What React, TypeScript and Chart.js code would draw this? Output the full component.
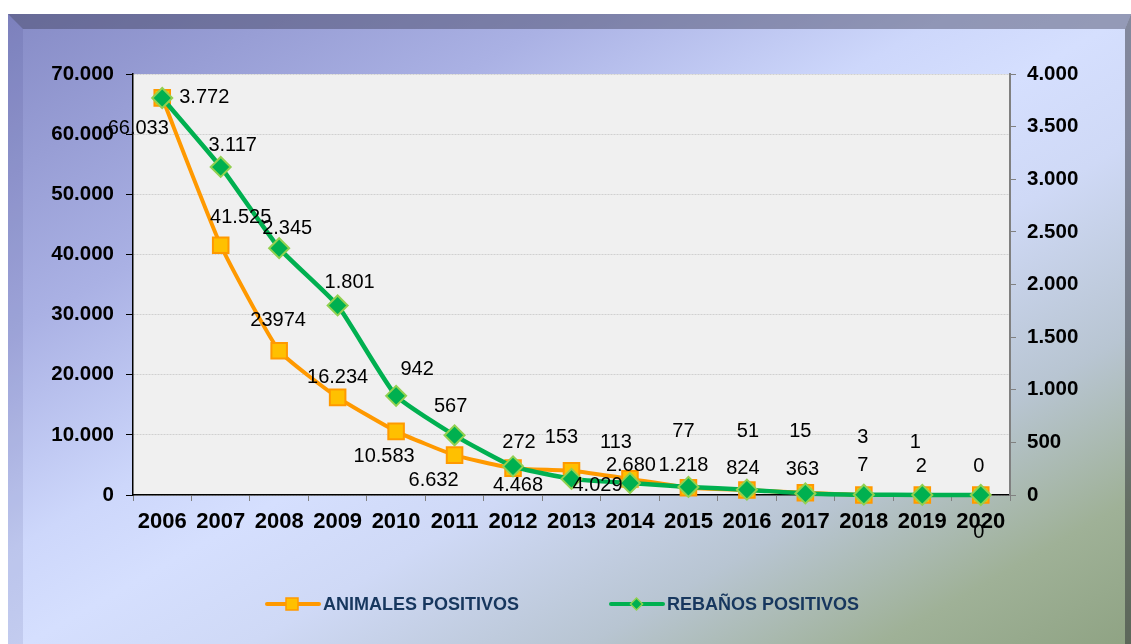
import React, { useEffect, useRef } from 'react';
import { Chart, registerables } from 'chart.js';

Chart.register(...registerables);

const years = ['2006', '2007', '2008', '2009', '2010', '2011', '2012', '2013', '2014', '2015', '2016', '2017', '2018', '2019', '2020'];
const animalesPositivos = [66033, 41525, 23974, 16234, 10583, 6632, 4468, 4029, 2680, 1218, 824, 363, 7, 2, 0];
const rebanosPositivos = [3772, 3117, 2345, 1801, 942, 567, 272, 153, 113, 77, 51, 15, 3, 1, 0];
const animalesLabelText = ['66.033', '41.525', '23974', '16.234', '10.583', '6.632', '4.468', '4.029', '2.680', '1.218', '824', '363', '7', '2', '0'];
const leftAxisMax = 70000;
const leftAxisStep = 10000;
const rightAxisMax = 4000;
const rightAxisStep = 500;

// label placement relative to each point (px)
const animalesLabelOffset = [[-24, 31], [20, -28], [-1, -30], [0, -20], [-12, 25], [-21, 25], [5, 17], [26, 15], [1, -13], [-5, -22], [-4, -22], [-3, -23], [-1, -29], [-1, -29], [-2, -29]];
const rebanosLabelOffset = [[42, -1], [12, -21], [8, -20], [12, -23], [21, -26], [-4, -29], [6, -24], [-10, -41], [-14, -41], [-5, -55], [1, -58], [-5, -62], [-1, -57], [-7, -52], [-2, 37]];

const ORANGE = '#FF9900';
const YELLOW = '#FFC000';
const GREEN = '#00B050';
const LIGHTGREEN = '#92D050';
const NAVY = '#17375E';
const FONT = '"Liberation Sans", Arial, sans-serif';

const fmt = (v: number) => String(Math.round(v)).replace(/\B(?=(\d{3})+(?!\d))/g, '.');

const plotBg = {
  id: 'plotBg',
  beforeDraw(chart: any) {
    const { ctx, chartArea: a } = chart;
    ctx.save();
    ctx.fillStyle = '#F0F0F0';
    ctx.fillRect(a.left, a.top, a.right - a.left, a.bottom - a.top);
    ctx.restore();
  },
};

const pointLabels = {
  id: 'pointLabels',
  afterDatasetsDraw(chart: any) {
    const ctx = chart.ctx;
    ctx.save();
    ctx.font = `20px ${FONT}`;
    ctx.fillStyle = '#000';
    ctx.textAlign = 'center';
    ctx.textBaseline = 'middle';
    const sets = [
      { texts: animalesLabelText, offs: animalesLabelOffset },
      { texts: rebanosPositivos.map(fmt), offs: rebanosLabelOffset },
    ];
    sets.forEach((s, di) => {
      const meta = chart.getDatasetMeta(di);
      meta.data.forEach((pt: any, i: number) => {
        ctx.fillText(s.texts[i], pt.x + s.offs[i][0], pt.y + s.offs[i][1]);
      });
    });
    ctx.restore();
  },
};

const customLegend = {
  id: 'customLegend',
  afterDraw(chart: any) {
    const ctx = chart.ctx;
    const y = 604;
    const names = chart.data.datasets.map((d: any) => d.label);
    ctx.save();
    ctx.lineCap = 'round';
    // orange
    ctx.strokeStyle = ORANGE;
    ctx.lineWidth = 4;
    ctx.beginPath();
    ctx.moveTo(267, y);
    ctx.lineTo(319, y);
    ctx.stroke();
    ctx.fillStyle = YELLOW;
    ctx.lineWidth = 1.5;
    ctx.fillRect(286, y - 6, 12, 12);
    ctx.strokeRect(286, y - 6, 12, 12);
    // green
    ctx.strokeStyle = GREEN;
    ctx.lineWidth = 4;
    ctx.beginPath();
    ctx.moveTo(611, y);
    ctx.lineTo(663, y);
    ctx.stroke();
    ctx.beginPath();
    const cx = 636.5, r = 6;
    ctx.moveTo(cx, y - r);
    ctx.lineTo(cx + r, y);
    ctx.lineTo(cx, y + r);
    ctx.lineTo(cx - r, y);
    ctx.closePath();
    ctx.fillStyle = GREEN;
    ctx.fill();
    ctx.strokeStyle = LIGHTGREEN;
    ctx.lineWidth = 1.5;
    ctx.stroke();
    // text
    ctx.font = `bold 18px ${FONT}`;
    ctx.fillStyle = NAVY;
    ctx.textAlign = 'left';
    ctx.textBaseline = 'middle';
    ctx.fillText(names[0], 323, y + 1);
    ctx.fillText(names[1], 667, y + 1);
    ctx.restore();
  },
};

export default function App() {
  const canvasRef = useRef<HTMLCanvasElement | null>(null);

  useEffect(() => {
    if (!canvasRef.current) return;
    const chart = new Chart(canvasRef.current, {
      type: 'line',
      data: {
        labels: years,
        datasets: [
          {
            label: 'ANIMALES POSITIVOS',
            data: animalesPositivos,
            yAxisID: 'y',
            borderColor: ORANGE,
            backgroundColor: YELLOW,
            borderWidth: 4,
            pointStyle: 'rect',
            pointRadius: 11,
            pointHoverRadius: 11,
            pointBackgroundColor: YELLOW,
            pointBorderColor: ORANGE,
            pointBorderWidth: 2,
            tension: 0.15,
            clip: false as any,
            order: 2,
          },
          {
            label: 'REBAÑOS POSITIVOS',
            data: rebanosPositivos,
            yAxisID: 'y1',
            borderColor: GREEN,
            backgroundColor: GREEN,
            borderWidth: 4.5,
            pointStyle: 'rectRot',
            pointRadius: 10,
            pointHoverRadius: 10,
            pointBackgroundColor: GREEN,
            pointBorderColor: LIGHTGREEN,
            pointBorderWidth: 2,
            tension: 0.15,
            clip: false as any,
            order: 1,
          },
        ],
      },
      options: {
        responsive: false,
        animation: false,
        events: [],
        layout: { padding: { top: 74, left: 0, right: 0, bottom: 0 } },
        plugins: {
          legend: { display: false },
          tooltip: { enabled: false },
          title: { display: false },
        },
        scales: {
          x: {
            type: 'category',
            offset: true,
            grid: {
              display: true,
              drawOnChartArea: false,
              drawTicks: true,
              tickLength: 6,
              color: '#808080',
              offset: true,
            },
            border: { display: true, color: '#000', width: 1.5 },
            ticks: {
              font: { family: FONT, size: 22, weight: 'bold' },
              color: '#000',
              padding: 8,
              maxRotation: 0,
              autoSkip: false,
            },
            afterFit: (s: any) => { s.height = 149; },
          },
          y: {
            type: 'linear',
            position: 'left',
            min: 0,
            max: leftAxisMax,
            grid: { color: '#d0d0d0', lineWidth: 1, tickColor: '#000', tickLength: 7 },
            border: { display: true, color: '#000', width: 1.5, dash: [2, 1] },
            ticks: {
              stepSize: leftAxisStep,
              callback: (v: any) => fmt(Number(v)),
              font: { family: FONT, size: 20.5, weight: 'bold' },
              color: '#000',
              padding: 12,
            },
            afterFit: (s: any) => { s.width = 133; },
          },
          y1: {
            type: 'linear',
            position: 'right',
            min: 0,
            max: rightAxisMax,
            grid: { drawOnChartArea: false, tickColor: '#808080', tickLength: 6 },
            border: { display: true, color: '#808080', width: 2 },
            ticks: {
              stepSize: rightAxisStep,
              callback: (v: any) => fmt(Number(v)),
              font: { family: FONT, size: 20.5, weight: 'bold' },
              color: '#000',
              padding: 11,
            },
            afterFit: (s: any) => { s.width = 121; },
          },
        },
      } as any,
      plugins: [plotBg, pointLabels, customLegend],
    });
    return () => chart.destroy();
  }, []);

  return (
    <div style={{ position: 'fixed', left: 0, top: 0, width: 1131, height: 644, overflow: 'hidden', background: '#fff' }}>
      <div
        style={{
          position: 'absolute',
          left: 8,
          top: 14,
          width: 1123,
          height: 640,
          background:
            'linear-gradient(to bottom right, #868bc6 0%, #aab1e4 25%, #cdd7fb 42%, #d5dffe 50%, #cfd9f6 60%, #b8c5d2 75%, #9fb197 88%, #8ea282 100%)',
        }}
      >
        <div
          style={{
            position: 'absolute', left: 0, top: 0, width: '100%', height: 15,
            background: 'rgba(60,60,85,0.42)',
            clipPath: 'polygon(0 0, 100% 0, calc(100% - 6px) 100%, 15px 100%)',
          }}
        />
        <div
          style={{
            position: 'absolute', left: 0, top: 0, width: 15, height: '100%',
            background: 'rgba(40,40,110,0.10)',
            clipPath: 'polygon(0 0, 100% 15px, 100% 100%, 0 100%)',
          }}
        />
        <div
          style={{
            position: 'absolute', right: 0, top: 0, width: 6, height: '100%',
            background: 'rgba(30,30,40,0.45)',
            clipPath: 'polygon(0 15px, 100% 0, 100% 100%, 0 100%)',
          }}
        />
      </div>
      <canvas ref={canvasRef} width={1131} height={644} style={{ position: 'absolute', left: 0, top: 0, width: 1131, height: 644 }} />
    </div>
  );
}
